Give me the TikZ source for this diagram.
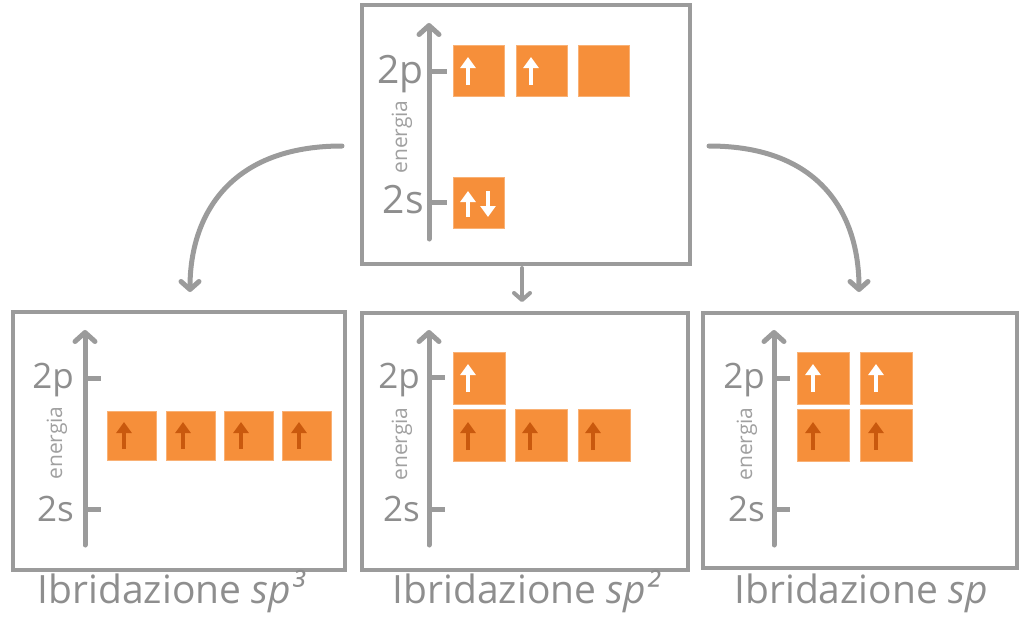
\documentclass[tikz,border=0pt]{standalone}
\usepackage{fontspec}
\setmainfont{Open Sans}
\usetikzlibrary{arrows.meta,calc}
\definecolor{frame}{HTML}{9B9B9B}
\definecolor{txt}{HTML}{8E8E8E}
\definecolor{entxt}{HTML}{A0A0A0}
\definecolor{orb}{HTML}{F68F3A}
\definecolor{darkarr}{HTML}{C9590E}
\tikzset{
 panel/.style={draw=frame,line width=4.8pt},
 axis/.style={draw=frame,line width=5pt,line cap=round,-{Straight Barb[length=9pt,width=20pt,line cap=round,line join=round]}},
 tickm/.style={draw=frame,line width=5pt},
 lvl/.style={text=txt,font=\fontsize{#1}{#1}\selectfont,inner sep=0pt,anchor=base east},
 ener/.style={text=entxt,font=\fontsize{21}{21}\selectfont,inner sep=0pt,rotate=90},
 orbbox/.style={fill=orb,draw=orb!70!white,line width=0.8pt,minimum width=#1,minimum height=#1,inner sep=0pt,anchor=north west},
 orbbox/.default=51pt,
 spinw/.style={draw=white,line width=4.2pt,-{Triangle[length=11pt,width=15pt]}},
 spind/.style={draw=darkarr,line width=4.2pt,-{Triangle[length=11pt,width=15pt]}},
 conn/.style={draw=frame,line width=5pt,line cap=round,-{Straight Barb[length=8pt,width=18pt,line cap=round,line join=round]}},
 ttl/.style={text=txt,font=\fontsize{39}{39}\selectfont,inner sep=0pt,anchor=base}
}
\begin{document}
\begin{tikzpicture}[x=1pt,y=-1pt]
\useasboundingbox (0,0) rectangle (1021,624);
% panels
\draw[panel] (362,5) rectangle (690,264);
\draw[panel] (13,312) rectangle (345,570);
\draw[panel] (362,313) rectangle (688,570);
\draw[panel] (703,313) rectangle (1017,568);

% ===== top panel =====
\draw[axis] (429,239) -- (429,23);
\draw[tickm] (429,71) -- (447,71);
\draw[tickm] (429,202) -- (447,202);
\node[lvl=39] (t2p) at (424,83) {2p};
\node[lvl=39] (t2s) at (424,213) {2s};
\node[ener] (ten) at (402,137) {energia};
\node[orbbox] (tp1) at (453,45) {};
\node[orbbox] (tp2) at (516,45) {};
\node[orbbox] (tp3) at (578,45) {};
\node[orbbox] (ts1) at (453,177) {};
\draw[spinw] ($(tp1.north west)+(15,40)$) -- ++(0,-28);
\draw[spinw] ($(tp2.north west)+(15,40)$) -- ++(0,-28);
\draw[spinw] ($(ts1.north west)+(15,40)$) -- ++(0,-26);
\draw[spinw] ($(ts1.north west)+(35,14)$) -- ++(0,26);

% ===== left panel sp3 =====
\draw[axis] (85,545) -- (85,330);
\draw[tickm] (85,378) -- (101,378);
\draw[tickm] (85,509) -- (101,509);
\node[lvl=35] (l2p) at (74,388) {2p};
\node[lvl=35] (l2s) at (74,521) {2s};
\node[ener] (len) at (57,443) {energia};
\node[orbbox=49pt] (lh1) at (107,411) {};
\node[orbbox=49pt] (lh2) at (166,411) {};
\node[orbbox=49pt] (lh3) at (224,411) {};
\node[orbbox=49pt] (lh4) at (282,411) {};
\foreach \b in {lh1,lh2,lh3,lh4}
  \draw[spind] ($(\b.north west)+(17,38)$) -- ++(0,-27);
\node[ttl] (lt) at (172,603) {Ibridazione \textit{sp³}};

% ===== middle panel sp2 =====
\draw[axis] (429,545) -- (429,330);
\draw[tickm] (429,377) -- (445,377);
\draw[tickm] (429,509) -- (445,509);
\node[lvl=35] (m2p) at (420,388) {2p};
\node[lvl=35] (m2s) at (420,521) {2s};
\node[ener] (men) at (402,444) {energia};
\node[orbbox=52pt] (mp1) at (453,352) {};
\node[orbbox=52pt] (mh1) at (453,409) {};
\node[orbbox=52pt] (mh2) at (515,409) {};
\node[orbbox=52pt] (mh3) at (578,409) {};
\draw[spinw] ($(mp1.north west)+(15,40)$) -- ++(0,-28);
\foreach \b in {mh1,mh2,mh3}
  \draw[spind] ($(\b.north west)+(15,41)$) -- ++(0,-28);
\node[ttl] (mt) at (527,603) {Ibridazione \textit{sp²}};

% ===== right panel sp =====
\draw[axis] (774,545) -- (774,330);
\draw[tickm] (774,378) -- (790,378);
\draw[tickm] (774,509) -- (790,509);
\node[lvl=35] (r2p) at (765,388) {2p};
\node[lvl=35] (r2s) at (765,521) {2s};
\node[ener] (ren) at (747,444) {energia};
\node[orbbox=52pt] (rp1) at (797,352) {};
\node[orbbox=52pt] (rp2) at (860,352) {};
\node[orbbox=52pt] (rh1) at (797,409) {};
\node[orbbox=52pt] (rh2) at (860,409) {};
\foreach \b in {rp1,rp2}
  \draw[spinw] ($(\b.north west)+(16,40)$) -- ++(0,-28);
\foreach \b in {rh1,rh2}
  \draw[spind] ($(\b.north west)+(16,41)$) -- ++(0,-28);
\node[ttl] (rt) at (861,603) {Ibridazione \textit{sp}};

% ===== connectors =====
\coordinate (cl0) at (342,146);
\coordinate (cl1) at (190,292);
\coordinate (cr0) at (709,146);
\coordinate (cr1) at (859,292);
\coordinate (cm0) at (522,268);
\coordinate (cm1) at (522,302);
\draw[conn] (cl0) .. controls (230,146) and (190,215) .. (cl1);
\draw[conn] (cr0) .. controls (821,146) and (859,215) .. (cr1);
\draw[conn,line width=4pt,-{Straight Barb[length=7pt,width=16pt,line cap=round,line join=round]}] (cm0) -- (cm1);
\end{tikzpicture}
\end{document}
